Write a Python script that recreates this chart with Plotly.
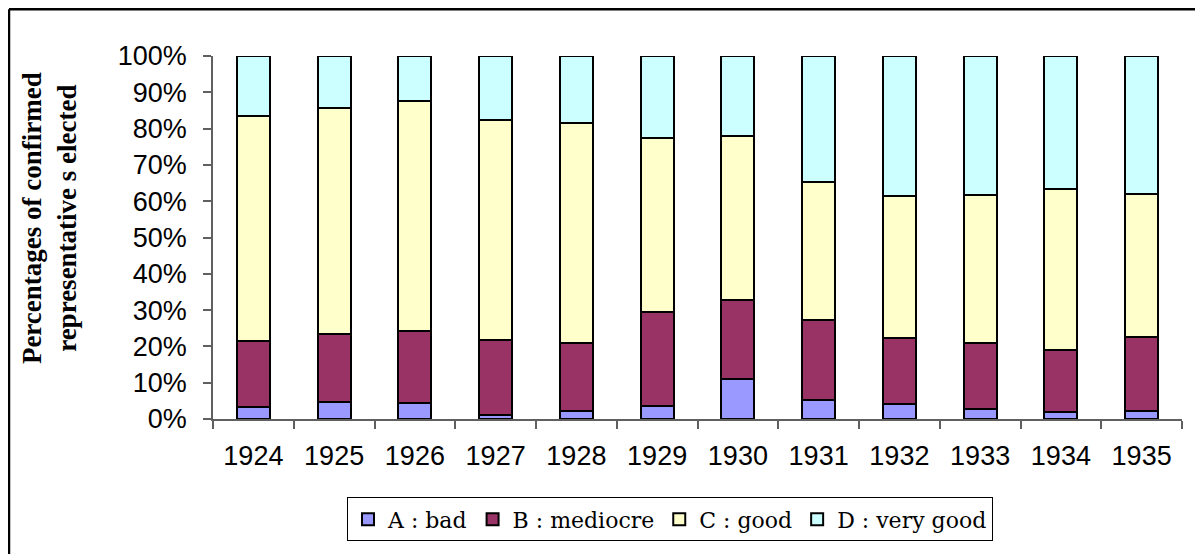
import plotly.graph_objects as go

years = ["1924", "1925", "1926", "1927", "1928", "1929", "1930", "1931", "1932", "1933", "1934", "1935"]
a_bad = [3.4, 4.8, 4.4, 1.0, 2.2, 3.7, 11.1, 5.1, 4.0, 2.7, 2.0, 2.1]
b_mediocre = [18.1, 18.7, 19.8, 20.9, 18.7, 25.9, 21.8, 22.2, 18.3, 18.2, 17.0, 20.4]
c_good = [61.9, 62.1, 63.5, 60.5, 60.7, 47.8, 45.1, 38.0, 39.0, 40.9, 44.5, 39.5]
d_very_good = [16.6, 14.4, 12.3, 17.6, 18.4, 22.6, 22.0, 34.7, 38.7, 38.2, 36.5, 38.0]

series_names = ["A : bad", "B : mediocre", "C : good", "D : very good"]
series_colors = ["#9999FF", "#993366", "#FFFFCC", "#CCFFFF"]
y_ticks = [0, 10, 20, 30, 40, 50, 60, 70, 80, 90, 100]

OFF = 8  # page body margin
W, H = 1203 - OFF, 554 - OFF
L, T = 213 - OFF, 56 - OFF
R = 1203 - 1182
B = 554 - 421
pw, ph = W - L - R, H - T - B

def px_x(p):
    # p in page pixels
    return (p - OFF - L) / pw

def px_y(p):
    return (H - B - (p - OFF)) / ph

fig = go.Figure()
for name, vals, col in zip(series_names, [a_bad, b_mediocre, c_good, d_very_good], series_colors):
    fig.add_trace(go.Bar(
        x=years, y=vals, name=name,
        marker=dict(color=col, line=dict(color="black", width=2)),
    ))

fig.update_layout(
    width=W, height=H,
    margin=dict(l=L, r=R, t=T, b=B),
    barmode="stack", barnorm="percent", bargap=0.59,
    plot_bgcolor="white", paper_bgcolor="white",
    font=dict(family="Liberation Sans, Arial", size=27, color="black"),
    showlegend=True,
    legend=dict(
        orientation="h", x=px_x(670), y=px_y(522), xanchor="center", yanchor="middle",
        bordercolor="black", borderwidth=1, bgcolor="white",
        font=dict(family="DejaVu Serif", size=22, color="black"),
        traceorder="normal", itemwidth=30,
    ),
)
fig.update_xaxes(
    type="category", showline=True, linecolor="#606060", linewidth=1.5,
    ticks="outside", tickson="boundaries", ticklen=8, tickcolor="#606060", tickwidth=1.5,
    showgrid=False, tickfont=dict(size=27), ticklabelstandoff=12,
)
fig.update_yaxes(
    range=[0, 100], tickvals=y_ticks, ticktext=[f"{v}%" for v in y_ticks],
    showline=True, linecolor="#606060", linewidth=1.5,
    ticks="outside", ticklen=8, tickcolor="#606060", tickwidth=1.5,
    showgrid=False, zeroline=False, tickfont=dict(size=27), ticklabelstandoff=11,
)

fig.add_annotation(
    text="<b>Percentages of confirmed<br>representative s elected</b>",
    xref="paper", yref="paper", x=px_x(49), y=px_y(219),
    xanchor="center", yanchor="middle", textangle=-90, showarrow=False,
    font=dict(family="Liberation Serif", size=27, color="black"),
)

# outer frame (left and top edges visible)
fig.add_shape(type="line", xref="paper", yref="paper",
              x0=px_x(OFF + 1), x1=px_x(OFF + 1), y0=px_y(OFF + 1), y1=px_y(560),
              line=dict(color="black", width=2.5))
fig.add_shape(type="line", xref="paper", yref="paper",
              x0=px_x(OFF + 1), x1=px_x(1210), y0=px_y(OFF + 1), y1=px_y(OFF + 1),
              line=dict(color="black", width=2.5))

fig.write_html("out.html")
